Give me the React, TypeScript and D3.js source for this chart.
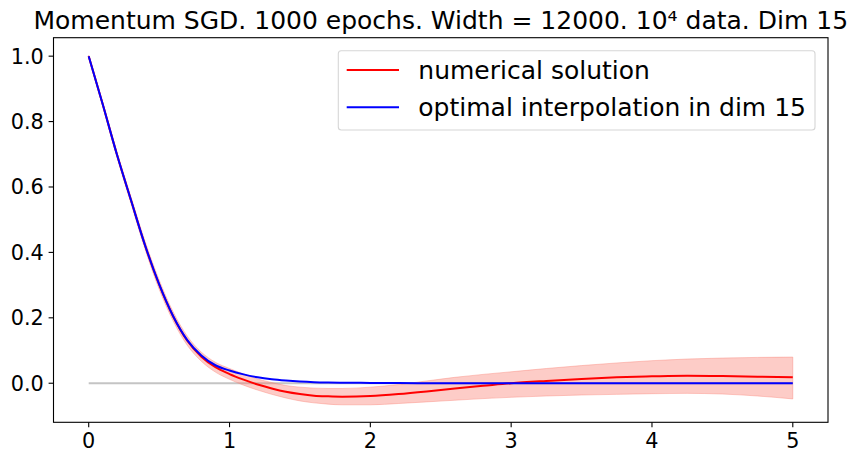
import React, { useEffect, useRef } from 'react';
import * as d3 from 'd3';

// sample positions (x) shared by all series
const xGrid = [
  0, 0.1, 0.2, 0.3, 0.4, 0.5, 0.6, 0.7, 0.8, 0.9, 1.0, 1.1, 1.2, 1.3, 1.4, 1.5, 1.6, 1.7, 1.8,
  2.0, 2.2, 2.4, 2.6, 2.8, 3.0, 3.25, 3.5, 3.75, 4.0, 4.25, 4.5, 4.75, 5.0,
];

const numerical = [
  1.0, 0.852, 0.7, 0.56, 0.422, 0.302, 0.204, 0.13, 0.081, 0.049, 0.028, 0.011, -0.004, -0.016,
  -0.026, -0.033, -0.038, -0.04, -0.041, -0.039, -0.033, -0.025, -0.016, -0.008, 0.0, 0.007, 0.013,
  0.018, 0.021, 0.023, 0.022, 0.02, 0.018,
];

const optimal = [
  1.0, 0.852, 0.7, 0.56, 0.422, 0.303, 0.205, 0.132, 0.085, 0.055, 0.039, 0.027, 0.018, 0.012,
  0.008, 0.005, 0.003, 0.002, 0.0015, 0.001, 0.0005, 0, 0, 0, 0, 0, 0, 0, 0, 0, 0, 0, 0,
];

const bandLow = [
  0.997, 0.846, 0.692, 0.55, 0.41, 0.288, 0.19, 0.116, 0.067, 0.034, 0.012, -0.006, -0.021,
  -0.034, -0.045, -0.054, -0.06, -0.064, -0.066, -0.066, -0.062, -0.057, -0.052, -0.047, -0.043,
  -0.039, -0.036, -0.034, -0.032, -0.031, -0.033, -0.039, -0.048,
];

const bandHigh = [
  1.003, 0.858, 0.708, 0.57, 0.434, 0.316, 0.218, 0.144, 0.095, 0.064, 0.045, 0.028, 0.013, 0.002,
  -0.007, -0.012, -0.015, -0.016, -0.016, -0.012, -0.004, 0.007, 0.018, 0.027, 0.035, 0.045, 0.054,
  0.062, 0.069, 0.074, 0.077, 0.079, 0.08,
];

const xTicks = [0, 1, 2, 3, 4, 5];
const yTicks = [0.0, 0.2, 0.4, 0.6, 0.8, 1.0];

const titleText = 'Momentum SGD. 1000 epochs. Width = 12000. 10\u2074 data. Dim 15';
const legendLabels = ['numerical solution', 'optimal interpolation in dim 15'];
const legendColors = ['red', 'blue'];

const W = 858;
const H = 462;
const FONT = 'DejaVu Sans, sans-serif';

const App: React.FC = () => {
  const svgRef = useRef<SVGSVGElement | null>(null);

  useEffect(() => {
    document.body.style.margin = '0';
    const svg = d3.select(svgRef.current);
    svg.selectAll('*').remove();

    const left = 53.5;
    const right = 828;
    const top = 37.7;
    const bottom = 422.3;

    // matplotlib-like 5% margins
    const xMin = d3.min(xGrid)!;
    const xMax = d3.max(xGrid)!;
    const xPad = (xMax - xMin) * 0.05;
    const yMin = d3.min(bandLow)!;
    const yMax = Math.max(d3.max(bandHigh)!, d3.max(optimal)!);
    const yPad = (yMax - yMin) * 0.05;

    const x = d3.scaleLinear().domain([xMin - xPad, xMax + xPad]).range([left, right]);
    const y = d3.scaleLinear().domain([yMin - yPad, yMax + yPad]).range([bottom, top]);

    const idx = xGrid.map((_, i) => i);

    // zero reference line
    svg
      .append('line')
      .attr('x1', x(0))
      .attr('x2', x(5))
      .attr('y1', y(0))
      .attr('y2', y(0))
      .attr('stroke', '#c4c4c4')
      .attr('stroke-width', 2);

    // spread band
    const area = d3
      .area<number>()
      .x((i) => x(xGrid[i]))
      .y0((i) => y(bandLow[i]))
      .y1((i) => y(bandHigh[i]))
      .curve(d3.curveMonotoneX);

    svg
      .append('path')
      .attr('d', area(idx)!)
      .attr('fill', 'salmon')
      .attr('fill-opacity', 0.4)
      .attr('stroke', 'salmon')
      .attr('stroke-opacity', 0.4)
      .attr('stroke-width', 1);

    const lineOf = (vals: number[]) =>
      d3
        .line<number>()
        .x((i) => x(xGrid[i]))
        .y((i) => y(vals[i]))
        .curve(d3.curveMonotoneX)(idx)!;

    svg.append('path').attr('d', lineOf(numerical)).attr('fill', 'none').attr('stroke', 'red').attr('stroke-width', 2);
    svg.append('path').attr('d', lineOf(optimal)).attr('fill', 'none').attr('stroke', 'blue').attr('stroke-width', 2);

    // spines
    svg
      .append('rect')
      .attr('x', left)
      .attr('y', top)
      .attr('width', right - left)
      .attr('height', bottom - top)
      .attr('fill', 'none')
      .attr('stroke', 'black')
      .attr('stroke-width', 1.1);

    // x ticks
    const xt = svg.append('g');
    xTicks.forEach((t) => {
      xt.append('line')
        .attr('x1', x(t))
        .attr('x2', x(t))
        .attr('y1', bottom)
        .attr('y2', bottom + 4.9)
        .attr('stroke', 'black')
        .attr('stroke-width', 1.1);
      xt.append('text')
        .attr('x', x(t))
        .attr('y', bottom + 9.7)
        .attr('dy', '0.76em')
        .attr('text-anchor', 'middle')
        .attr('font-family', FONT)
        .attr('font-size', 20.8)
        .text(String(t));
    });

    // y ticks
    const yt = svg.append('g');
    yTicks.forEach((t) => {
      yt.append('line')
        .attr('x1', left - 4.9)
        .attr('x2', left)
        .attr('y1', y(t))
        .attr('y2', y(t))
        .attr('stroke', 'black')
        .attr('stroke-width', 1.1);
      yt.append('text')
        .attr('x', left - 9.7)
        .attr('y', y(t))
        .attr('dy', '0.36em')
        .attr('text-anchor', 'end')
        .attr('font-family', FONT)
        .attr('font-size', 20.8)
        .text(t.toFixed(1));
    });

    // title
    svg
      .append('text')
      .attr('x', (left + right) / 2)
      .attr('y', top - 8.3)
      .attr('text-anchor', 'middle')
      .attr('font-family', FONT)
      .attr('font-size', 25)
      .text(titleText);

    // legend
    const lg = svg.append('g');
    lg.append('rect')
      .attr('x', 338.3)
      .attr('y', 50.7)
      .attr('width', 476.7)
      .attr('height', 79.3)
      .attr('rx', 3)
      .attr('fill', 'white')
      .attr('fill-opacity', 0.8)
      .attr('stroke', '#d6d6d6')
      .attr('stroke-width', 1.1);

    legendLabels.forEach((label, i) => {
      const cy = 70 + i * 37.3;
      lg.append('line')
        .attr('x1', 346.7)
        .attr('x2', 399)
        .attr('y1', cy)
        .attr('y2', cy)
        .attr('stroke', legendColors[i])
        .attr('stroke-width', 2);
      lg.append('text')
        .attr('x', 418.3)
        .attr('y', cy)
        .attr('dy', '0.36em')
        .attr('font-family', FONT)
        .attr('font-size', 25)
        .text(label);
    });
  }, []);

  return <svg ref={svgRef} width={W} height={H} style={{ display: 'block' }}></svg>;
};

export default App;
